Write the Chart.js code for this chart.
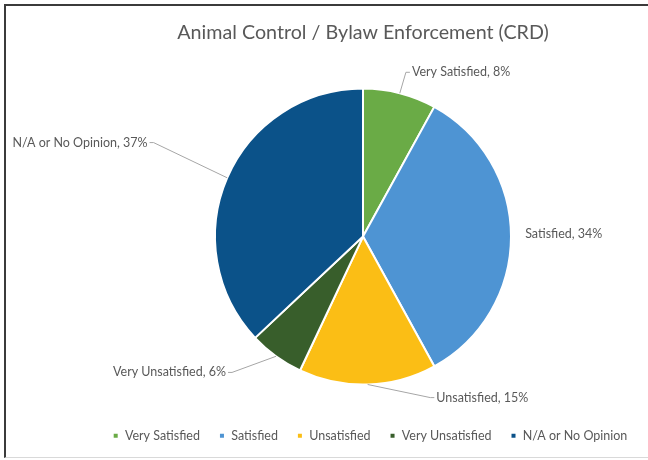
<!DOCTYPE html>
<html>
<head>
<meta charset="utf-8">
<script src="https://cdn.jsdelivr.net/npm/chart.js@4.4.1/dist/chart.umd.min.js"></script>
<style>
  html, body { margin: 0; padding: 0; background: #fff; overflow: hidden; }
  body { width: 648px; height: 460px; position: relative; }
  #frame {
    position: absolute; left: 4px; top: 4px; width: 720px; height: 451px;
    border-top: 2px solid #3b3b3b; border-left: 2px solid #3b3b3b;
    border-bottom: 1px solid #d9d9d9; background: #fff;
  }
  #box { position: absolute; left: 1px; top: 1px; width: 712px; height: 449px; }
</style>
</head>
<body>
<div id="frame"><div id="box"><canvas id="myPieChart"></canvas></div></div>
<script>
// chart values
var categories = ["Very Satisfied", "Satisfied", "Unsatisfied", "Very Unsatisfied", "N/A or No Opinion"];
var percentages = [8, 34, 15, 6, 37];
var sliceColors = ["#6aab46", "#4e94d3", "#fbbe15", "#385e2b", "#0b5289"];

// where each outside label sits, in units of the pie radius from the centre
var labelSpots = [
  { dx: 0.29, dy: -1.11, align: "left", leader: true },
  { dx: 1.055, dy: -0.02, align: "left", leader: false },
  { dx: 0.455, dy: 1.088, align: "left", leader: true },
  { dx: -0.885, dy: 0.918, align: "right", leader: true },
  { dx: -1.415, dy: -0.635, align: "right", leader: true }
];

var textGray = "#595959";

// draws "Name, xx%" labels outside the pie with leader lines
var outsideLabels = {
  id: "outsideLabels",
  afterLayout: function(chart) {
    // excel puts the legend a little right of centre
    chart.legend.left += 7;
    chart.legend.right += 7;
  },
  afterDatasetsDraw: function(chart) {
    var ctx = chart.ctx;
    var meta = chart.getDatasetMeta(0);
    ctx.save();
    ctx.font = "12.5px Lato";
    ctx.textBaseline = "middle";
    for (var i = 0; i < meta.data.length; i++) {
      var arc = meta.data[i];
      var r = arc.outerRadius;
      var mid = (arc.startAngle + arc.endAngle) / 2;
      var ex = arc.x + Math.cos(mid) * r;
      var ey = arc.y + Math.sin(mid) * r;
      var spot = labelSpots[i];
      var px = arc.x + spot.dx * r;
      var py = arc.y + spot.dy * r;
      var dir = spot.align == "left" ? 1 : -1;
      if (spot.leader) {
        ctx.strokeStyle = "#a6a6a6";
        ctx.lineWidth = 1;
        ctx.beginPath();
        ctx.moveTo(ex, ey);
        ctx.lineTo(px, py);
        ctx.lineTo(px + dir * 4, py);
        ctx.stroke();
      }
      ctx.fillStyle = textGray;
      ctx.textAlign = spot.align;
      ctx.fillText(categories[i] + ", " + percentages[i] + "%", px + dir * 6, py);
    }
    ctx.restore();
  }
};

var ctx = document.getElementById("myPieChart");
var myPieChart = new Chart(ctx, {
  type: "pie",
  data: {
    labels: categories,
    datasets: [{
      data: percentages,
      backgroundColor: sliceColors,
      borderColor: "#ffffff",
      borderWidth: 2
    }]
  },
  options: {
    responsive: true,
    maintainAspectRatio: false,
    animation: false,
    radius: 148,
    layout: { padding: { left: 0, right: 0, top: 0, bottom: 4 } },
    plugins: {
      title: {
        display: true,
        text: "Animal Control / Bylaw Enforcement (CRD)",
        color: textGray,
        font: { family: "Lato", size: 19.7, weight: "normal" },
        padding: { top: 14, bottom: 18 }
      },
      legend: {
        position: "bottom",
        labels: {
          color: textGray,
          font: { family: "Lato", size: 12.5 },
          usePointStyle: true,
          pointStyle: "rect",
          boxWidth: 6,
          boxHeight: 6,
          padding: 19
        }
      },
      tooltip: { enabled: false }
    }
  },
  plugins: [outsideLabels]
});
</script>
</body>
</html>
